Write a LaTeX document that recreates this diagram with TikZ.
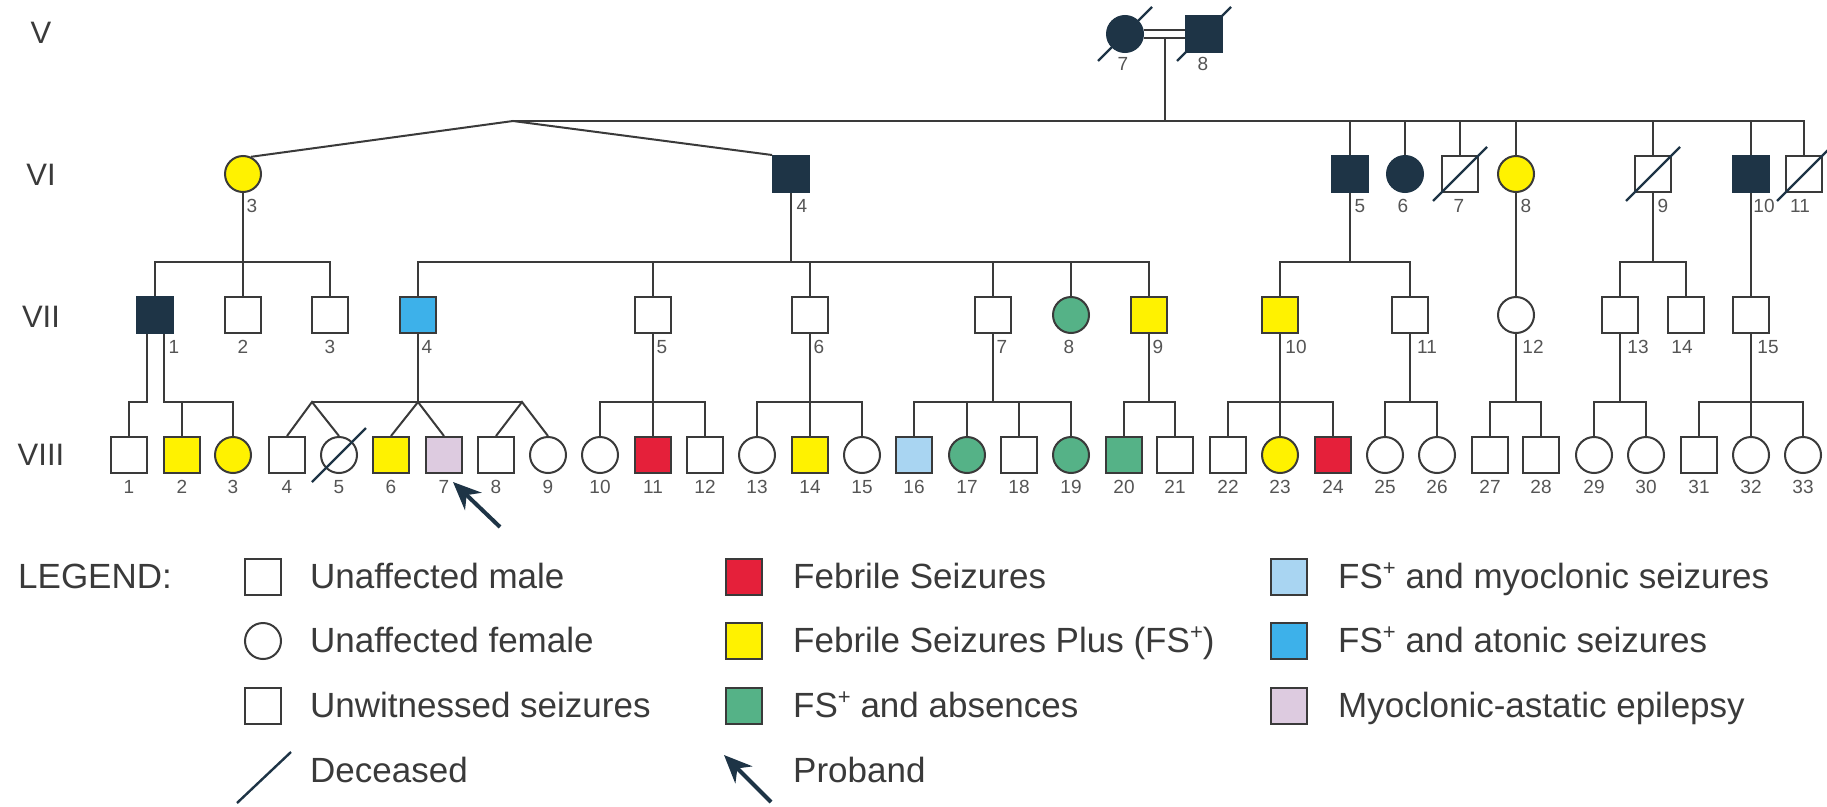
\documentclass[tikz,border=0pt]{standalone}
\usepackage{fontspec}
\setmainfont{Liberation Sans}
\usetikzlibrary{calc,arrows.meta}
\definecolor{navy}{HTML}{1E3446}
\definecolor{fsyel}{HTML}{FFF200}
\definecolor{fsred}{HTML}{E5203A}
\definecolor{fsgrn}{HTML}{55B287}
\definecolor{fslbl}{HTML}{A9D5F2}
\definecolor{fsblu}{HTML}{3DB1EA}
\definecolor{fslil}{HTML}{DDCBE0}
\definecolor{lncol}{HTML}{3A3A3A}
\definecolor{numcol}{HTML}{555555}
\newcommand{\fsplus}{FS\raisebox{0.36em}{\fontsize{22}{22}\selectfont +}}
\newcommand{\deadmark}[1]{\draw[dead] ($(#1)+(-27,27)$) -- ($(#1)+(27,-27)$);}
\begin{document}
\begin{tikzpicture}[x=1pt,y=-1pt,
 ln/.style={draw=lncol, line width=2pt},
 male/.style={rectangle, draw=lncol, line width=2pt, fill=white, minimum width=36pt, minimum height=36pt, inner sep=0pt},
 fem/.style={circle, draw=lncol, line width=2pt, fill=white, minimum size=36pt, inner sep=0pt},
 plain/.style={},
 aff/.style={fill=navy, draw=navy},
 fsp/.style={fill=fsyel},
 fsr/.style={fill=fsred},
 abs/.style={fill=fsgrn},
 myo/.style={fill=fslbl},
 ato/.style={fill=fsblu},
 mae/.style={fill=fslil},
 num/.style={anchor=base, text=numcol, font=\fontsize{19}{19}\selectfont, inner sep=0pt},
 gen/.style={anchor=base, text=lncol, font=\fontsize{31}{31}\selectfont, inner sep=0pt},
 leg/.style={anchor=base west, text=lncol, font=\fontsize{35}{35}\selectfont, inner sep=0pt},
 dead/.style={draw=navy, line width=2.4pt},
 proband/.style={draw=navy, line width=4pt, -{Stealth[length=28pt,width=24pt]}},
]
\useasboundingbox[fill=white] (0,0) rectangle (1827,806);

% generation labels
\node[gen] (gV) at (41,43) {V};
\node[gen] (gVI) at (41,185) {VI};
\node[gen] (gVII) at (41,327) {VII};
\node[gen] (gVIII) at (41,465) {VIII};

% generation V
\node[fem,aff] (V7) at (1125,34) {};
\node[male,aff] (V8) at (1204,34) {};
\node[num] (nV7) at (1123,70) {7};
\node[num] (nV8) at (1203,70) {8};

% generation VI
\foreach \n/\x/\s/\c in {3/243/fem/fsp, 4/791/male/aff, 5/1350/male/aff, 6/1405/fem/aff, 7/1460/male/plain, 8/1516/fem/fsp, 9/1653/male/plain, 10/1751/male/aff, 11/1804/male/plain}
  {\node[\s,\c] (VI\n) at (\x,174) {};}
\foreach \n/\x in {3/252, 4/802, 5/1360, 6/1403, 7/1459, 8/1526, 9/1663, 10/1764, 11/1800}
  {\node[num] (nVI\n) at (\x,212) {\n};}

% generation VII
\foreach \n/\x/\s/\c in {1/155/male/aff, 2/243/male/plain, 3/330/male/plain, 4/418/male/ato, 5/653/male/plain, 6/810/male/plain, 7/993/male/plain, 8/1071/fem/abs, 9/1149/male/fsp, 10/1280/male/fsp, 11/1410/male/plain, 12/1516/fem/plain, 13/1620/male/plain, 14/1686/male/plain, 15/1751/male/plain}
  {\node[\s,\c] (VII\n) at (\x,315) {};}
\foreach \n/\x in {1/174, 2/243, 3/330, 4/427, 5/662, 6/819, 7/1002, 8/1069, 9/1158, 10/1296, 11/1427, 12/1533, 13/1638, 14/1682, 15/1768}
  {\node[num] (nVII\n) at (\x,353) {\n};}

% generation VIII
\foreach \n/\x/\s/\c in {1/129/male/plain, 2/182/male/fsp, 3/233/fem/fsp, 4/287/male/plain, 5/339/fem/plain, 6/391/male/fsp, 7/444/male/mae, 8/496/male/plain, 9/548/fem/plain, 10/600/fem/plain, 11/653/male/fsr, 12/705/male/plain, 13/757/fem/plain, 14/810/male/fsp, 15/862/fem/plain, 16/914/male/myo, 17/967/fem/abs, 18/1019/male/plain, 19/1071/fem/abs, 20/1124/male/abs, 21/1175/male/plain, 22/1228/male/plain, 23/1280/fem/fsp, 24/1333/male/fsr, 25/1385/fem/plain, 26/1437/fem/plain, 27/1490/male/plain, 28/1541/male/plain, 29/1594/fem/plain, 30/1646/fem/plain, 31/1699/male/plain, 32/1751/fem/plain, 33/1803/fem/plain}
  {\node[\s,\c] (VIII\n) at (\x,455) {};
   \node[num] (nVIII\n) at (\x,493) {\n};}

% deceased marks
\deadmark{V7}
\deadmark{V8}
\deadmark{VI7}
\deadmark{VI9}
\deadmark{VI11}
\deadmark{VIII5}

% V couple and sibship
\coordinate (vm) at (1165,38);
\coordinate (sV) at (1165,121);
\coordinate (apex) at (513,121);
\draw[ln] ([yshift=4pt]V7.east) -- ([yshift=4pt]V8.west);
\draw[ln] ([yshift=-4pt]V7.east) -- ([yshift=-4pt]V8.west);
\draw[ln] (vm) -- (sV);
\draw[ln] (apex) -- (VI11 |- sV) -- (VI11.north);
\foreach \n in {VI5,VI6,VI7,VI8,VI9,VI10} {\draw[ln] (\n.north) -- (\n |- sV);}
\draw[ln] (VI3.65) -- (apex) -- (VI4.north west);

% children of VI
\coordinate (s3) at (243,262);
\draw[ln] (VI3.south) -- (VII2.north);
\draw[ln] (VII1.north) |- (s3) -| (VII3.north);
\coordinate (s4) at (791,262);
\draw[ln] (VI4.south) -- (s4);
\draw[ln] (VII4.north) |- (s4) -| (VII9.north);
\foreach \n in {VII5,VII6,VII7,VII8} {\draw[ln] (\n.north) -- (\n |- s4);}
\coordinate (s5) at (1350,262);
\draw[ln] (VI5.south) -- (s5);
\draw[ln] (VII10.north) |- (s5) -| (VII11.north);
\draw[ln] (VI8.south) -- (VII12.north);
\coordinate (s9) at (1653,262);
\draw[ln] (VI9.south) -- (s9);
\draw[ln] (VII13.north) |- (s9) -| (VII14.north);
\draw[ln] (VI10.south) -- (VII15.north);

% children of VII
\coordinate (t1a) at (147,402);
\coordinate (t1b) at (164,402);
\draw[ln] ([xshift=-8pt]VII1.south) -- (t1a) -| (VIII1.north);
\draw[ln] ([xshift=9pt]VII1.south) -- (t1b) -| (VIII3.north);
\draw[ln] (VIII2.north) -- (VIII2 |- t1b);

\coordinate (tw1) at (312,402);
\coordinate (tw2) at (418,402);
\coordinate (tw3) at (522,402);
\draw[ln] (VII4.south) -- (tw2);
\draw[ln] (tw1) -- (tw3);
\draw[ln] (VIII4.north) -- (tw1) -- (VIII5.north);
\draw[ln] (VIII6.north) -- (tw2) -- (VIII7.north);
\draw[ln] (VIII8.north) -- (tw3) -- (VIII9.north);

\coordinate (u5) at (653,402);
\draw[ln] (VII5.south) -- (VIII11.north);
\draw[ln] (VIII10.north) |- (u5) -| (VIII12.north);
\coordinate (u6) at (810,402);
\draw[ln] (VII6.south) -- (VIII14.north);
\draw[ln] (VIII13.north) |- (u6) -| (VIII15.north);
\coordinate (u7) at (993,402);
\draw[ln] (VII7.south) -- (u7);
\draw[ln] (VIII16.north) |- (u7) -| (VIII19.north);
\foreach \n in {VIII17,VIII18} {\draw[ln] (\n.north) -- (\n |- u7);}
\coordinate (u9) at (1149,402);
\draw[ln] (VII9.south) -- (u9);
\draw[ln] (VIII20.north) |- (u9) -| (VIII21.north);
\coordinate (u10) at (1280,402);
\draw[ln] (VII10.south) -- (VIII23.north);
\draw[ln] (VIII22.north) |- (u10) -| (VIII24.north);
\coordinate (u11) at (1410,402);
\draw[ln] (VII11.south) -- (u11);
\draw[ln] (VIII25.north) |- (u11) -| (VIII26.north);
\coordinate (u12) at (1516,402);
\draw[ln] (VII12.south) -- (u12);
\draw[ln] (VIII27.north) |- (u12) -| (VIII28.north);
\coordinate (u13) at (1620,402);
\draw[ln] (VII13.south) -- (u13);
\draw[ln] (VIII29.north) |- (u13) -| (VIII30.north);
\coordinate (u15) at (1751,402);
\draw[ln] (VII15.south) -- (VIII32.north);
\draw[ln] (VIII31.north) |- (u15) -| (VIII33.north);

% proband arrow
\coordinate (pbtail) at (500,527);
\coordinate (pbtip) at (453,482);
\draw[proband] (pbtail) -- (pbtip);

% legend
\node[leg] (legt) at (18,588) {LEGEND:};
\node[male] (L1) at (263,577) {};
\node[leg] (L1t) at (310,588) {Unaffected male};
\node[fem] (L2) at (263,641) {};
\node[leg] (L2t) at (310,652) {Unaffected female};
\node[male] (L3) at (263,706) {};
\node[leg] (L3t) at (310,717) {Unwitnessed seizures};
\coordinate (L4a) at (237,803);
\coordinate (L4b) at (291,752);
\draw[dead] (L4a) -- (L4b);
\node[leg] (L4t) at (310,782) {Deceased};

\node[male,fsr] (L5) at (744,577) {};
\node[leg] (L5t) at (793,588) {Febrile Seizures};
\node[male,fsp] (L6) at (744,641) {};
\node[leg] (L6t) at (793,652) {Febrile Seizures Plus (\fsplus)};
\node[male,abs] (L7) at (744,706) {};
\node[leg] (L7t) at (793,717) {\fsplus\ and absences};
\coordinate (L8a) at (771,802);
\coordinate (L8b) at (724,755);
\draw[proband] (L8a) -- (L8b);
\node[leg] (L8t) at (793,782) {Proband};

\node[male,myo] (L9) at (1289,577) {};
\node[leg] (L9t) at (1338,588) {\fsplus\ and myoclonic seizures};
\node[male,ato] (L10) at (1289,641) {};
\node[leg] (L10t) at (1338,652) {\fsplus\ and atonic seizures};
\node[male,mae] (L11) at (1289,706) {};
\node[leg] (L11t) at (1338,717) {Myoclonic-astatic epilepsy};
\end{tikzpicture}
\end{document}
